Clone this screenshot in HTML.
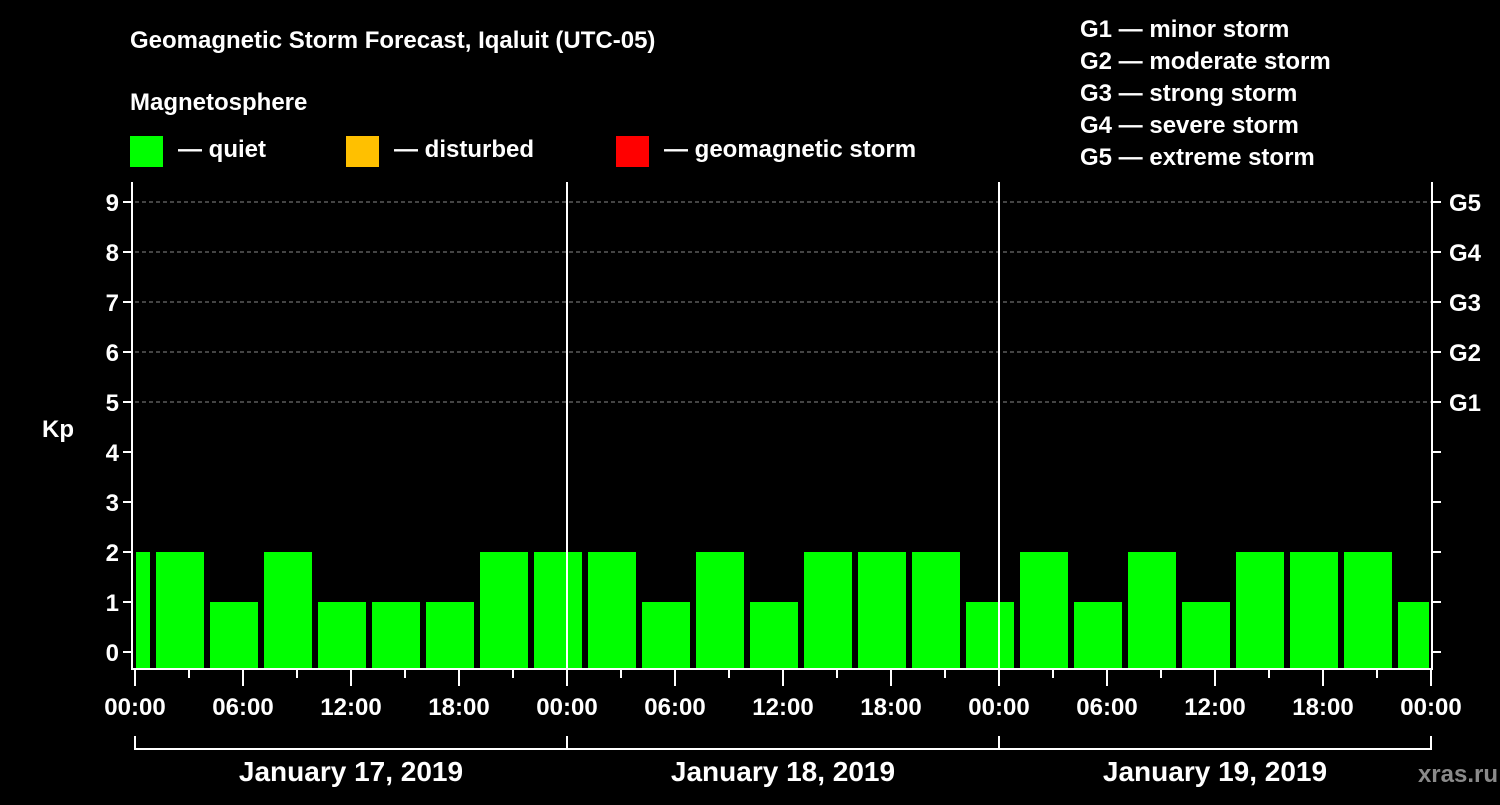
<!DOCTYPE html>
<html><head><meta charset="utf-8"><style>
body{margin:0;background:#000;width:1500px;height:800px;overflow:hidden}
svg text{font-family:"Liberation Sans",Arial,sans-serif;font-weight:bold;fill:#fff}
</style></head><body>
<svg id="c" width="1500" height="800" xmlns="http://www.w3.org/2000/svg">
<text x="130" y="48" font-size="24">Geomagnetic Storm Forecast, Iqaluit (UTC-05)</text>
<text x="130" y="110" font-size="24">Magnetosphere</text>
<rect x="130" y="136" width="33" height="31" fill="#00ff00"/>
<text x="178" y="157" font-size="24">— quiet</text>
<rect x="346" y="136" width="33" height="31" fill="#ffc000"/>
<text x="394" y="157" font-size="24">— disturbed</text>
<rect x="616" y="136" width="33" height="31" fill="#ff0000"/>
<text x="664" y="157" font-size="24">— geomagnetic storm</text>
<g font-size="24">
<text x="1080" y="37">G1 — minor storm</text>
<text x="1080" y="69">G2 — moderate storm</text>
<text x="1080" y="101">G3 — strong storm</text>
<text x="1080" y="133">G4 — severe storm</text>
<text x="1080" y="165">G5 — extreme storm</text>
</g>
<text x="42" y="437" font-size="24">Kp</text>
<text x="1498" y="782" font-size="24" text-anchor="end" fill="#888" style="fill:#8a8a8a">xras.ru</text>
<g id="plot"></g>
</svg>
<script>
const kpValues=[2,2,1,2,1,1,1,2,2,2,1,2,1,2,2,2,1,2,1,2,1,2,2,2,1];
const blockStartHour=-2;
const yTicks=[0,1,2,3,4,5,6,7,8,9];
const gLabels=["G1","G2","G3","G4","G5"];
const gLevels=[5,6,7,8,9];
const xTickLabels=["00:00","06:00","12:00","18:00"];
const dayLabels=["January 17, 2019","January 18, 2019","January 19, 2019"];

const X0=135,PXH=18,TOTAL=72,Y0=652,PXK=50,BOTTOM=668,TOP=182;
const xs=h=>X0+h*PXH, ys=k=>Y0-k*PXK;
const NS="http://www.w3.org/2000/svg",g=document.getElementById('plot');
function mk(t,a){const e=document.createElementNS(NS,t);for(const k in a)e.setAttribute(k,a[k]);g.appendChild(e);return e;}

gLevels.forEach(k=>{const e=mk('line',{x1:xs(0),x2:xs(TOTAL),y1:ys(k),y2:ys(k),stroke:'#888','stroke-dasharray':'4,3','stroke-width':1});

});

kpValues.forEach((v,i)=>{
 let a=xs(blockStartHour+i*3)+3,b=xs(blockStartHour+i*3+3)-3;
 a=Math.max(a,xs(0)+1);b=Math.min(b,xs(TOTAL)-2);
 const c=v>=5?'#ff0000':(v>=4?'#ffc000':'#00ff00');
 const r=mk('rect',{x:a,y:ys(v),width:b-a,height:BOTTOM-ys(v),fill:c});
 
 
});

[1,2].forEach(d=>{const e=mk('line',{x1:xs(d*24),x2:xs(d*24),y1:TOP,y2:BOTTOM,stroke:'#fff','stroke-width':2});

});

const ax=mk('path',{d:`M${xs(0)-3},${TOP} V${BOTTOM+1} H${xs(TOTAL)+1} V${TOP}`,stroke:'#fff','stroke-width':2,fill:'none'});



yTicks.forEach(k=>{
 mk('line',{x1:xs(0)-12,x2:xs(0)-3,y1:ys(k),y2:ys(k),stroke:'#fff','stroke-width':2});
 mk('line',{x1:xs(TOTAL)+1,x2:xs(TOTAL)+10,y1:ys(k),y2:ys(k),stroke:'#fff','stroke-width':2});
 const t=mk('text',{x:xs(0)-16,y:ys(k)+9,'font-size':24,'text-anchor':'end'});t.textContent=k;
 
 
});
gLevels.forEach((k,i)=>{const t=mk('text',{x:1449,y:ys(k)+9,'font-size':24});t.textContent=gLabels[i];
 
 });

for(let h=0;h<=TOTAL;h+=3){
 const major=h%6===0;
 mk('line',{x1:xs(h),x2:xs(h),y1:BOTTOM+2,y2:major?BOTTOM+18:BOTTOM+10,stroke:'#fff','stroke-width':2});
 if(major){const t=mk('text',{x:xs(h),y:715,'font-size':24,'text-anchor':'middle'});t.textContent=h===TOTAL?xTickLabels[0]:xTickLabels[(h%24)/6];
 
 }
}
dayLabels.forEach((d,i)=>{
 mk('path',{d:`M${xs(i*24)},736 V749 H${xs(i*24+24)} V736`,stroke:'#fff','stroke-width':2,fill:'none'});
 const t=mk('text',{x:xs(i*24+12),y:781,'font-size':28,'text-anchor':'middle'});t.textContent=d;
 
 
});
</script>
</body></html>
